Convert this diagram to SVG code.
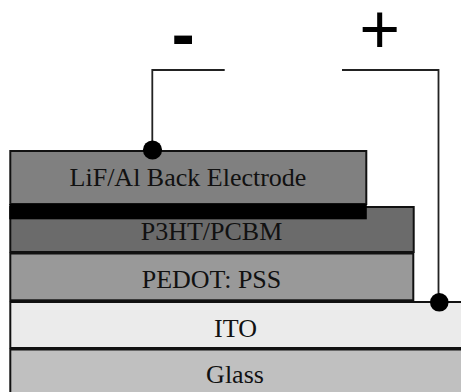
<svg xmlns="http://www.w3.org/2000/svg" width="461" height="392" viewBox="0 0 461 392">
  <style>
    .layer { stroke: #111; stroke-width: 2; }
    .lbl { font-family: "Liberation Serif", "Times New Roman", serif; font-size: 26px; fill: #111; text-anchor: middle; }
    .wire { fill: none; stroke: #222; stroke-width: 1.8; }
    .dot { fill: #000; }
    .sign { font-family: "Liberation Sans", Arial, sans-serif; fill: #000; text-anchor: middle; }
  </style>
  <rect width="461" height="392" fill="#fff"/>
  <g id="glass">
    <rect class="layer" x="10.3" y="349.5" width="470" height="60" fill="#c0c0c0"/>
    <text class="lbl" x="235" y="383.3">Glass</text>
  </g>
  <g id="ito">
    <rect class="layer" x="10.3" y="302" width="470" height="46" fill="#ebebeb"/>
    <text class="lbl" x="235.5" y="336.7">ITO</text>
  </g>
  <g id="pedot">
    <rect class="layer" x="10.3" y="253.5" width="403" height="46.8" fill="#999999"/>
    <text class="lbl" x="211.5" y="288.3">PEDOT: PSS</text>
  </g>
  <g id="p3ht">
    <rect class="layer" x="10.3" y="207" width="403.4" height="45" fill="#6b6b6b"/>
    <text class="lbl" x="211.5" y="240">P3HT/PCBM</text>
  </g>
  <g id="lif">
    <rect class="layer" x="10.3" y="151" width="356" height="53" fill="#808080"/>
    <rect x="9.3" y="204" width="357.5" height="15.3" fill="#000"/>
    <text class="lbl" x="188" y="185.7">LiF/Al Back Electrode</text>
  </g>
  <g id="connectors">
    <path class="wire" d="M224.7 70 H152.3 V150"/>
    <path class="wire" d="M342 70 H438.5 V302"/>
    <circle class="dot" cx="152.5" cy="150" r="9.6"/>
    <circle class="dot" cx="439.3" cy="302.3" r="9.3"/>
  </g>
  <g id="minus">
    <text class="sign" x="183.2" y="57.5" font-size="70" font-weight="bold">-</text>
  </g>
  <g id="plus">
    <text class="sign" x="379.7" y="53.3" font-size="70">+</text>
  </g>
</svg>
